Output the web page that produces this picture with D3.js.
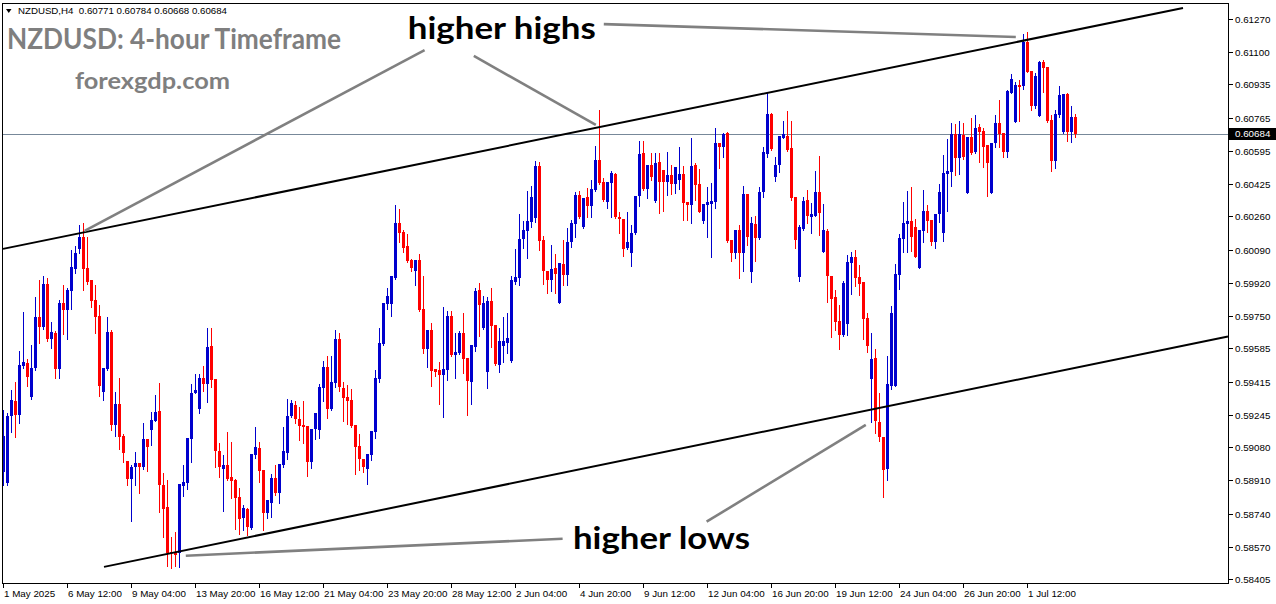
<!DOCTYPE html>
<html><head><meta charset="utf-8">
<script src="https://cdn.jsdelivr.net/npm/d3@7"></script>
<style>html,body{margin:0;padding:0;background:#fff;overflow:hidden}</style>
</head><body><svg id="chart" width="1276" height="604"></svg>
<script>
// ---- DATA (H4 candles, NZDUSD) ----
const open = [0.58953,0.58897,0.59239,0.59316,0.59244,0.59496,0.59511,0.59337,0.59485,0.59746,0.59695,0.59914,0.59634,0.59664,0.59480,0.59818,0.59782,0.59879,0.59991,0.60093,0.60155,0.59996,0.59935,0.59833,0.59751,0.59362,0.59480,0.59669,0.59193,0.59300,0.59137,0.59009,0.58917,0.58978,0.58999,0.58978,0.59122,0.59167,0.59214,0.59265,0.58886,0.58774,0.58544,0.58539,0.58539,0.58881,0.58897,0.59122,0.59357,0.59275,0.59434,0.59404,0.59598,0.59429,0.59060,0.58968,0.58989,0.58927,0.58912,0.58825,0.58718,0.58764,0.58667,0.59040,0.59076,0.58963,0.58744,0.58795,0.58922,0.58846,0.58989,0.59050,0.59239,0.59295,0.59224,0.59193,0.59188,0.59004,0.59173,0.59167,0.59383,0.59490,0.59275,0.59409,0.59634,0.59383,0.59337,0.59321,0.59193,0.59086,0.59019,0.58968,0.59040,0.59157,0.59429,0.59608,0.59813,0.59813,0.59945,0.60226,0.60180,0.60109,0.60037,0.59981,0.60037,0.59787,0.59582,0.59680,0.59480,0.59475,0.59450,0.59475,0.59751,0.59551,0.59562,0.59664,0.59536,0.59414,0.59593,0.59884,0.59690,0.59465,0.59828,0.59705,0.59501,0.59598,0.59613,0.59521,0.59925,0.59945,0.60145,0.60186,0.60232,0.60252,0.60518,0.60140,0.59981,0.59935,0.59996,0.59818,0.60017,0.59961,0.60130,0.60221,0.60370,0.60206,0.60360,0.60313,0.60395,0.60549,0.60436,0.60334,0.60431,0.60477,0.60257,0.60247,0.60099,0.60073,0.60175,0.60365,0.60585,0.60400,0.60523,0.60339,0.60539,0.60498,0.60436,0.60472,0.60426,0.60446,0.60477,0.60334,0.60318,0.60523,0.60426,0.60237,0.60318,0.60324,0.60334,0.60636,0.60615,0.60687,0.60140,0.60073,0.60191,0.60073,0.60375,0.59976,0.60221,0.60150,0.60385,0.60580,0.60784,0.60462,0.60523,0.60662,0.60672,0.60610,0.60360,0.59950,0.60196,0.60344,0.60257,0.60262,0.60385,0.60078,0.60186,0.59955,0.59848,0.59726,0.59654,0.59710,0.60022,0.60053,0.59950,0.59925,0.59741,0.59429,0.59536,0.59209,0.59132,0.58968,0.59393,0.59393,0.59961,0.60145,0.60221,0.60237,0.60206,0.59996,0.60186,0.60288,0.60242,0.60130,0.60273,0.60175,0.60477,0.60487,0.60682,0.60559,0.60677,0.60380,0.60666,0.60590,0.60718,0.60697,0.60626,0.60380,0.60636,0.60738,0.60687,0.60590,0.60891,0.60743,0.60932,0.60927,0.61152,0.61004,0.60825,0.60774,0.61050,0.61024,0.60753,0.60544,0.60779,0.60692,0.60886,0.60692,0.60771];
const high = [0.59270,0.59255,0.59373,0.59414,0.59572,0.59772,0.59531,0.59603,0.59848,0.59935,0.59955,0.59945,0.59721,0.59674,0.59833,0.59909,0.59894,0.60088,0.60109,0.60216,0.60226,0.60155,0.59935,0.59909,0.59807,0.59485,0.59746,0.59680,0.59362,0.59434,0.59147,0.59009,0.58989,0.59055,0.58999,0.59203,0.59122,0.59260,0.59347,0.59409,0.58948,0.58912,0.58621,0.58646,0.58892,0.58989,0.59127,0.59404,0.59454,0.59454,0.59496,0.59690,0.59690,0.59429,0.59101,0.59040,0.59157,0.59106,0.58917,0.58871,0.58785,0.58769,0.59045,0.59183,0.59106,0.58963,0.58810,0.58943,0.58989,0.58994,0.59183,0.59327,0.59321,0.59316,0.59285,0.59316,0.59188,0.59173,0.59255,0.59404,0.59521,0.59547,0.59547,0.59680,0.59664,0.59414,0.59398,0.59378,0.59193,0.59147,0.59019,0.59045,0.59162,0.59475,0.59690,0.59818,0.59894,0.59955,0.60318,0.60298,0.60191,0.60170,0.60042,0.60037,0.60068,0.59955,0.59680,0.59716,0.59480,0.59516,0.59797,0.59777,0.59777,0.59664,0.59674,0.59766,0.59536,0.59603,0.59894,0.59920,0.59853,0.59848,0.59894,0.59705,0.59690,0.59746,0.59766,0.59955,0.60093,0.60272,0.60236,0.60390,0.60416,0.60544,0.60539,0.60160,0.59981,0.60114,0.60068,0.60022,0.60140,0.60201,0.60242,0.60385,0.60390,0.60354,0.60405,0.60446,0.60621,0.60805,0.60457,0.60436,0.60493,0.60482,0.60283,0.60247,0.60283,0.60216,0.60365,0.60646,0.60646,0.60523,0.60585,0.60585,0.60585,0.60498,0.60590,0.60523,0.60513,0.60616,0.60518,0.60334,0.60661,0.60534,0.60503,0.60324,0.60411,0.60431,0.60713,0.60636,0.60687,0.60692,0.60140,0.60191,0.60216,0.60416,0.60375,0.60257,0.60262,0.60411,0.60616,0.60891,0.60789,0.60564,0.60672,0.60748,0.60799,0.60748,0.60360,0.60216,0.60360,0.60395,0.60329,0.60493,0.60569,0.60324,0.60196,0.59955,0.59884,0.59807,0.59930,0.60063,0.60078,0.60088,0.60012,0.59925,0.59766,0.59664,0.59582,0.59357,0.59132,0.59547,0.59802,0.60017,0.60170,0.60334,0.60390,0.60411,0.60247,0.60191,0.60395,0.60318,0.60242,0.60273,0.60426,0.60574,0.60656,0.60738,0.60733,0.60748,0.60738,0.60666,0.60764,0.60779,0.60733,0.60713,0.60626,0.60636,0.60779,0.60856,0.60687,0.60907,0.60989,0.60948,0.60958,0.61193,0.61203,0.61004,0.60994,0.61055,0.61060,0.61024,0.60779,0.60805,0.60927,0.60886,0.60891,0.60825,0.60784];
const low = [0.58886,0.58886,0.59157,0.59132,0.59203,0.59485,0.59393,0.59327,0.59475,0.59613,0.59685,0.59623,0.59588,0.59434,0.59434,0.59659,0.59634,0.59787,0.59971,0.60073,0.59884,0.59914,0.59797,0.59664,0.59342,0.59321,0.59475,0.59167,0.59137,0.59070,0.59004,0.58886,0.58703,0.58886,0.58846,0.58970,0.58958,0.59091,0.59214,0.58749,0.58621,0.58473,0.58462,0.58473,0.58467,0.58831,0.58866,0.59004,0.59357,0.59255,0.59368,0.59311,0.59388,0.58978,0.58927,0.58754,0.58912,0.58820,0.58662,0.58636,0.58657,0.58631,0.58662,0.59024,0.58902,0.58657,0.58718,0.58723,0.58836,0.58795,0.58978,0.59019,0.59234,0.59203,0.59116,0.59101,0.58932,0.58973,0.59122,0.59127,0.59316,0.59229,0.59270,0.59388,0.59368,0.59214,0.59199,0.59183,0.58943,0.58963,0.58953,0.58892,0.59014,0.59127,0.59414,0.59603,0.59787,0.59751,0.59940,0.60130,0.60078,0.60027,0.59981,0.59909,0.59777,0.59562,0.59490,0.59393,0.59444,0.59300,0.59234,0.59424,0.59547,0.59434,0.59557,0.59460,0.59244,0.59300,0.59572,0.59649,0.59685,0.59383,0.59593,0.59501,0.59465,0.59516,0.59562,0.59516,0.59914,0.59909,0.60099,0.60048,0.60206,0.60232,0.60088,0.59914,0.59869,0.59879,0.59869,0.59818,0.59909,0.59909,0.60104,0.60155,0.60252,0.60201,0.60257,0.60257,0.60390,0.60426,0.60339,0.60303,0.60257,0.60252,0.60175,0.60058,0.60094,0.60007,0.60170,0.60313,0.60395,0.60354,0.60446,0.60334,0.60278,0.60288,0.60370,0.60375,0.60380,0.60400,0.60242,0.60242,0.60226,0.60344,0.60283,0.60226,0.60155,0.60053,0.60303,0.60508,0.60564,0.60130,0.60032,0.60048,0.59945,0.59981,0.60114,0.59925,0.60032,0.60145,0.60360,0.60564,0.60600,0.60441,0.60487,0.60662,0.60595,0.60344,0.60099,0.59930,0.60191,0.60226,0.60175,0.60262,0.60165,0.60078,0.59823,0.59644,0.59680,0.59582,0.59649,0.59654,0.59864,0.59904,0.59858,0.59634,0.59567,0.59209,0.59152,0.59111,0.58825,0.58912,0.59378,0.59393,0.59889,0.60078,0.60078,0.60083,0.60053,0.59996,0.60130,0.60181,0.60114,0.60099,0.60232,0.60135,0.60288,0.60416,0.60472,0.60477,0.60554,0.60380,0.60580,0.60585,0.60539,0.60513,0.60365,0.60380,0.60616,0.60616,0.60564,0.60564,0.60891,0.60743,0.60748,0.60912,0.60999,0.60805,0.60815,0.60774,0.60897,0.60743,0.60493,0.60508,0.60769,0.60687,0.60646,0.60641,0.60668];
const close = [0.59137,0.59239,0.59321,0.59244,0.59501,0.59516,0.59439,0.59485,0.59746,0.59695,0.59914,0.59634,0.59669,0.59480,0.59818,0.59782,0.59884,0.60001,0.60073,0.60155,0.59991,0.59925,0.59828,0.59746,0.59393,0.59485,0.59669,0.59193,0.59300,0.59132,0.59050,0.58917,0.58978,0.58999,0.58978,0.59122,0.59081,0.59219,0.59260,0.58886,0.58764,0.58539,0.58539,0.58529,0.58892,0.58902,0.59127,0.59357,0.59373,0.59434,0.59404,0.59593,0.59424,0.59060,0.58978,0.58989,0.58917,0.58907,0.58820,0.58713,0.58769,0.58672,0.59045,0.59081,0.58958,0.58744,0.58810,0.58922,0.58846,0.58994,0.59060,0.59239,0.59306,0.59224,0.59188,0.59183,0.59004,0.59173,0.59255,0.59388,0.59490,0.59275,0.59414,0.59634,0.59388,0.59332,0.59316,0.59188,0.59081,0.59019,0.58978,0.59045,0.59162,0.59434,0.59613,0.59818,0.59853,0.59955,0.60226,0.60175,0.60099,0.60032,0.59996,0.60037,0.59782,0.59582,0.59680,0.59470,0.59465,0.59450,0.59480,0.59751,0.59551,0.59567,0.59664,0.59531,0.59419,0.59603,0.59879,0.59807,0.59818,0.59828,0.59700,0.59506,0.59623,0.59623,0.59639,0.59935,0.59950,0.60145,0.60191,0.60237,0.60360,0.60518,0.60135,0.59981,0.59935,0.59991,0.59966,0.60022,0.59961,0.60130,0.60226,0.60370,0.60257,0.60354,0.60313,0.60400,0.60549,0.60431,0.60344,0.60436,0.60482,0.60257,0.60247,0.60093,0.60130,0.60175,0.60365,0.60580,0.60400,0.60523,0.60462,0.60534,0.60436,0.60436,0.60472,0.60426,0.60513,0.60477,0.60329,0.60318,0.60518,0.60421,0.60283,0.60324,0.60334,0.60339,0.60636,0.60615,0.60682,0.60135,0.60073,0.60191,0.60073,0.60375,0.60155,0.60226,0.60150,0.60385,0.60590,0.60784,0.60605,0.60523,0.60672,0.60682,0.60600,0.60354,0.60140,0.60206,0.60339,0.60262,0.60273,0.60385,0.60278,0.60191,0.59955,0.59838,0.59721,0.59654,0.59920,0.60027,0.60053,0.59945,0.59914,0.59736,0.59598,0.59531,0.59214,0.59132,0.58963,0.59404,0.59766,0.59966,0.60150,0.60226,0.60237,0.60155,0.60053,0.60191,0.60288,0.60237,0.60130,0.60273,0.60385,0.60482,0.60493,0.60682,0.60559,0.60682,0.60564,0.60666,0.60585,0.60713,0.60692,0.60615,0.60534,0.60636,0.60738,0.60682,0.60590,0.60902,0.60963,0.60932,0.60922,0.61152,0.60999,0.60825,0.60978,0.61050,0.61019,0.60748,0.60544,0.60784,0.60881,0.60886,0.60692,0.60769,0.60684];

const xTickBars = [0,16,32,48,64,80,96,112,128,144,160,176,192,208,224,240,256];
const xTickLabels = ["1 May 2025","6 May 12:00","9 May 04:00","13 May 20:00","16 May 12:00","21 May 04:00","23 May 20:00","28 May 12:00","2 Jun 04:00","4 Jun 20:00","9 Jun 12:00","12 Jun 04:00","16 Jun 20:00","19 Jun 12:00","24 Jun 04:00","26 Jun 20:00","1 Jul 12:00"];
const yTicks = [0.61270,0.61100,0.60935,0.60765,0.60595,0.60425,0.60260,0.60090,0.59920,0.59750,0.59585,0.59415,0.59245,0.59080,0.58910,0.58740,0.58570,0.58405];
const lastPrice = 0.60684;
const headerText = "NZDUSD,H4  0.60771 0.60784 0.60668 0.60684";
const titleText = "NZDUSD: 4-hour Timeframe";
const siteText = "forexgdp.com";
// channel trendlines (bar index, price)
const channelLines = [
  {k0: 0, p0: 0.60094, k1: 295, p1: 0.61326},
  {k0: 25.25, p0: 0.58467, k1: 306.25, p1: 0.59646}
];
// annotation pointer lines (bar index, price)
const pointerLines = [
  {k0: 20.4, p0: 0.60186, k1: 105.4, p1: 0.61111},
  {k0: 117.7, p0: 0.61081, k1: 148.2, p1: 0.60728},
  {k0: 150.2, p0: 0.61244, k1: 253.2, p1: 0.61178},
  {k0: 45.7, p0: 0.58524, k1: 139.9, p1: 0.58611},
  {k0: 175.9, p0: 0.58698, k1: 215.7, p1: 0.59194}
];
const annotations = [
  {text: "higher highs", k: 101.2, p: 0.61168, w: 188},
  {text: "higher lows", k: 142.5, p: 0.58559, w: 177}
];

// ---- LAYOUT ----
const W = 1276, H = 604;
const L = 2.5, R = 1228.5, T = 3.5, B = 583.5;
const bull = "#0000cd", bear = "#ff0000";
const axisFont = "'Liberation Sans', Arial, sans-serif";

const svg = d3.select("#chart");
const x = d3.scaleLinear().domain([0, 268]).range([3, 1075]);
const y = d3.scaleLinear().domain([0.58405, 0.61270]).range([579, 19]);

svg.append("defs").append("clipPath").attr("id", "plot")
  .append("rect").attr("x", L).attr("y", T).attr("width", R - L).attr("height", B - T);

const plot = svg.append("g").attr("clip-path", "url(#plot)");

// current price line
plot.append("line")
  .attr("x1", L).attr("x2", R)
  .attr("y1", Math.round(y(lastPrice)) + 0.5).attr("y2", Math.round(y(lastPrice)) + 0.5)
  .attr("stroke", "#778899").attr("stroke-width", 1).attr("shape-rendering", "crispEdges");

// candles
const data = open.map((o, i) => ({i, o, h: high[i], l: low[i], c: close[i]}));
const cg = plot.append("g").attr("shape-rendering", "crispEdges");
cg.selectAll("line.wick").data(data).join("line").attr("class", "wick")
  .attr("x1", d => Math.round(x(d.i)) + 0.5).attr("x2", d => Math.round(x(d.i)) + 0.5)
  .attr("y1", d => Math.round(y(d.h))).attr("y2", d => Math.round(y(d.l)) + 1)
  .attr("stroke", d => d.c >= d.o ? bull : bear).attr("stroke-width", 1);
cg.selectAll("rect.body").data(data).join("rect").attr("class", "body")
  .attr("x", d => Math.round(x(d.i)) - 1).attr("width", 3)
  .attr("y", d => Math.round(y(Math.max(d.o, d.c))))
  .attr("height", d => Math.max(1, Math.round(y(Math.min(d.o, d.c))) - Math.round(y(Math.max(d.o, d.c)))))
  .attr("fill", d => d.c >= d.o ? bull : bear);

// channel lines
plot.selectAll("line.chan").data(channelLines).join("line").attr("class", "chan")
  .attr("x1", d => x(d.k0)).attr("y1", d => y(d.p0))
  .attr("x2", d => x(d.k1)).attr("y2", d => y(d.p1))
  .attr("stroke", "#000").attr("stroke-width", 2);

// pointer lines
plot.selectAll("line.ptr").data(pointerLines).join("line").attr("class", "ptr")
  .attr("x1", d => x(d.k0)).attr("y1", d => y(d.p0))
  .attr("x2", d => x(d.k1)).attr("y2", d => y(d.p1))
  .attr("stroke", "#808080").attr("stroke-width", 2.6);

// annotations
svg.selectAll("text.ann").data(annotations).join("text").attr("class", "ann")
  .attr("x", d => x(d.k)).attr("y", d => y(d.p))
  .attr("textLength", d => d.w).attr("lengthAdjust", "spacingAndGlyphs")
  .attr("font-family", "Lato, 'Open Sans', sans-serif").attr("font-weight", 700)
  .attr("font-size", 31).attr("fill", "#000").text(d => d.text);

// title texts
svg.append("text").attr("x", 7).attr("y", 49).text(titleText)
  .attr("textLength", 334).attr("lengthAdjust", "spacingAndGlyphs")
  .attr("font-family", "Lato, 'Open Sans', sans-serif").attr("font-weight", 700)
  .attr("font-size", 28).attr("fill", "#7f7f7f");
svg.append("text").attr("x", 75).attr("y", 89).text(siteText)
  .attr("textLength", 155).attr("lengthAdjust", "spacingAndGlyphs")
  .attr("font-family", "Lato, 'Open Sans', sans-serif").attr("font-weight", 700)
  .attr("font-size", 22).attr("fill", "#7f7f7f");

// header
svg.append("path").attr("d", "M6,9 L11.5,9 L8.75,13 Z").attr("fill", "#000");
svg.append("text").attr("x", 18).attr("y", 14).text(headerText)
  .attr("xml:space", "preserve").style("white-space", "pre")
  .attr("font-family", axisFont).attr("font-size", 9.7).attr("fill", "#000");

// frame
svg.append("rect").attr("x", L).attr("y", T).attr("width", R - L).attr("height", B - T)
  .attr("fill", "none").attr("stroke", "#000").attr("stroke-width", 1).attr("shape-rendering", "crispEdges");

// right axis
const ya = svg.append("g").attr("font-family", axisFont).attr("font-size", 9.8);
yTicks.forEach(v => {
  const yy = Math.round(y(v)) + 0.5;
  ya.append("line").attr("x1", R).attr("x2", R + 4).attr("y1", yy).attr("y2", yy)
    .attr("stroke", "#000").attr("shape-rendering", "crispEdges");
  ya.append("text").attr("x", 1235).attr("y", yy + 3.5).text(d3.format(".5f")(v)).attr("fill", "#000");
});
// price label
const py = y(lastPrice);
ya.append("rect").attr("x", R + 0.5).attr("y", Math.round(py) - 6).attr("width", W - R).attr("height", 12).attr("fill", "#000");
ya.append("text").attr("x", 1235).attr("y", py + 3.5).text(d3.format(".5f")(lastPrice)).attr("fill", "#fff");

// bottom axis
const xa = svg.append("g").attr("font-family", axisFont).attr("font-size", 9.8);
xTickBars.forEach((k, j) => {
  const xx = Math.round(x(k)) + 0.5;
  xa.append("line").attr("x1", xx).attr("x2", xx).attr("y1", B).attr("y2", B + 4)
    .attr("stroke", "#000").attr("shape-rendering", "crispEdges");
  xa.append("text").attr("x", xx + 0.5).attr("y", 597).text(xTickLabels[j]).attr("fill", "#000");
});
</script></body></html>
